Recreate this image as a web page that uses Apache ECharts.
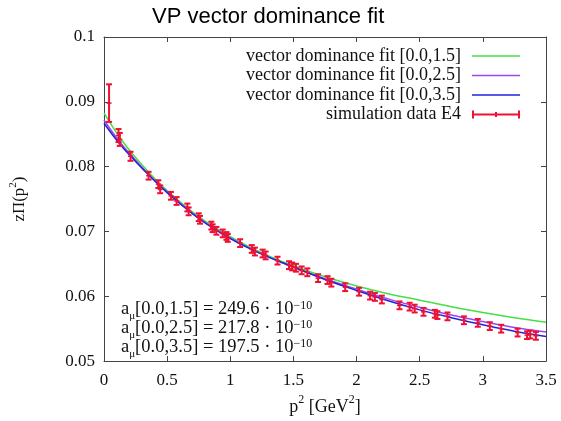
<!DOCTYPE html>
<html>
<head>
<meta charset="utf-8">
<script src="https://cdn.jsdelivr.net/npm/echarts@6/dist/echarts.min.js"></script>
<style>
html,body{margin:0;padding:0;background:#fff;}
#chart{width:561px;height:421px;}
</style>
</head>
<body>
<div id="chart"></div>
<script>
// ---- data ----
var fitX      = [0, 0.125, 0.25, 0.375, 0.5, 0.75, 1.0, 1.25, 1.5, 1.75, 2.0, 2.25, 2.5, 2.75, 3.0, 3.25, 3.5];
var fit15     = [0.0883, 0.0845, 0.0814, 0.0787, 0.0763, 0.0723, 0.0692, 0.0667, 0.0647, 0.0630, 0.0616, 0.0604, 0.0594, 0.0584, 0.0575, 0.0567, 0.0560];
var fit25     = [0.0872, 0.0838, 0.0810, 0.0784, 0.0761, 0.0721, 0.0690, 0.0665, 0.0645, 0.0627, 0.0611, 0.0596, 0.0583, 0.0571, 0.0561, 0.0552, 0.0545];
var fit35     = [0.0867, 0.0835, 0.0808, 0.0783, 0.0760, 0.0720, 0.0689, 0.0665, 0.0645, 0.0626, 0.0609, 0.0593, 0.0579, 0.0567, 0.0556, 0.0546, 0.0538];

var simX   = [0.04, 0.115, 0.125, 0.21, 0.353, 0.43, 0.445, 0.53, 0.575, 0.66, 0.67, 0.75, 0.76, 0.85, 0.86, 0.89, 0.94, 0.97, 0.98, 1.078, 1.17, 1.195, 1.256, 1.28, 1.374, 1.465, 1.49, 1.52, 1.565, 1.61, 1.695, 1.77, 1.8, 1.91, 2.02, 2.107, 2.145, 2.2, 2.34, 2.42, 2.46, 2.53, 2.62, 2.64, 2.72, 2.85, 2.96, 3.055, 3.145, 3.275, 3.35, 3.375, 3.42];
var simY   = [0.0898, 0.0848, 0.0842, 0.0816, 0.0786, 0.0773, 0.0765, 0.0755, 0.0747, 0.0737, 0.0731, 0.0722, 0.0718, 0.0709, 0.0705, 0.0701, 0.0697, 0.0693, 0.0690, 0.0682, 0.0673, 0.0669, 0.0666, 0.0663, 0.0655, 0.0648, 0.0646, 0.0644, 0.0640, 0.0637, 0.0628, 0.0625, 0.0621, 0.0614, 0.0607, 0.0601, 0.0599, 0.0595, 0.0586, 0.0584, 0.0581, 0.0576, 0.0573, 0.0571, 0.0569, 0.0563, 0.0559, 0.0554, 0.0550, 0.0544, 0.0540, 0.0541, 0.0539];
var simErr = [0.0029, 0.0010, 0.0010, 0.0007, 0.0006, 0.0006, 0.0006, 0.0006, 0.0006, 0.0006, 0.0006, 0.0006, 0.0006, 0.0006, 0.0006, 0.0006, 0.0006, 0.0006, 0.0006, 0.0006, 0.0006, 0.0006, 0.0006, 0.0006, 0.0006, 0.0006, 0.0006, 0.0006, 0.0006, 0.0006, 0.0006, 0.0006, 0.0006, 0.0006, 0.0006, 0.0006, 0.0006, 0.0006, 0.0006, 0.0006, 0.0006, 0.0006, 0.0006, 0.0006, 0.0006, 0.0006, 0.0006, 0.0006, 0.0006, 0.0006, 0.0006, 0.0006, 0.0006];

var seriesNames = ['vector dominance fit [0.0,1.5]', 'vector dominance fit [0.0,2.5]', 'vector dominance fit [0.0,3.5]', 'simulation data E4'];
var amuLabels = ['[0.0,1.5] = 249.6 · 10', '[0.0,2.5] = 217.8 · 10', '[0.0,3.5] = 197.5 · 10'];

var xTicks = {min: 0, max: 3.5, interval: 0.5};
var yTicks = {min: 0.05, max: 0.1, interval: 0.01};

// ---- chart ----
var SERIF = '"Liberation Serif", "DejaVu Serif", serif';
var FRAME = '#444';
var RED = '#ee1133';
var colors = ['#44e044', '#a044ee', '#2222dd'];

function pairs(xs, ys) { return xs.map(function (x, i) { return [x, ys[i]]; }); }

var chart = echarts.init(document.getElementById('chart'));

function axisCommon(showLabel) {
  return {
    type: 'value',
    axisLine: {show: true, onZero: false, lineStyle: {color: FRAME, width: 1}},
    axisTick: {show: true, inside: true, length: 5, lineStyle: {color: FRAME}},
    splitLine: {show: false},
    axisLabel: {show: showLabel, color: '#111', fontFamily: SERIF, fontSize: 17}
  };
}

var xBottom = Object.assign(axisCommon(true), xTicks, {position: 'bottom',
  name: '{n|p}{s|2}{n| [GeV}{s|2}{n|]}', nameLocation: 'middle', nameGap: 29,
  nameTextStyle: {rich: {n: {fontFamily: SERIF, fontSize: 18, color: '#111', lineHeight: 22, verticalAlign: 'bottom'},
                         s: {fontFamily: SERIF, fontSize: 12, color: '#111', lineHeight: 22, verticalAlign: 'top'}}}});
xBottom.axisLabel.margin = 11;
var xTop = Object.assign(axisCommon(false), xTicks, {position: 'top'});
var yLeft = Object.assign(axisCommon(true), yTicks, {position: 'left',
  name: '{n|zΠ(p}{s|2}{n|)}', nameLocation: 'middle', nameGap: 76, nameRotate: 90,
  nameTextStyle: {rich: {n: {fontFamily: SERIF, fontSize: 17, color: '#111', lineHeight: 20, verticalAlign: 'bottom'},
                         s: {fontFamily: SERIF, fontSize: 11, color: '#111', lineHeight: 20, verticalAlign: 'top'}}}});
yLeft.axisLabel.margin = 9;
var yRight = Object.assign(axisCommon(false), yTicks, {position: 'right'});

function lineSeries(i, ys) {
  return {
    name: seriesNames[i], type: 'line', data: pairs(fitX, ys), smooth: 0.4,
    showSymbol: false, symbol: 'none', lineStyle: {color: colors[i], width: 1.5},
    itemStyle: {color: colors[i]}, z: 2 + i, animation: false
  };
}

var errSeries = {
  name: seriesNames[3], type: 'custom', z: 10, animation: false,
  itemStyle: {color: RED},
  data: simX.map(function (x, i) { return [x, simY[i], simErr[i]]; }),
  encode: {x: 0, y: 1},
  renderItem: function (params, api) {
    var x = api.value(0), y = api.value(1), e = api.value(2);
    var top = api.coord([x, y + e]);
    var bot = api.coord([x, y - e]);
    var mid = api.coord([x, y]);
    var c = 3, st = {stroke: RED, lineWidth: 2};
    return {type: 'group', children: [
      {type: 'line', shape: {x1: top[0], y1: top[1], x2: bot[0], y2: bot[1]}, style: st},
      {type: 'line', shape: {x1: top[0] - c, y1: top[1], x2: top[0] + c, y2: top[1]}, style: st},
      {type: 'line', shape: {x1: bot[0] - c, y1: bot[1], x2: bot[0] + c, y2: bot[1]}, style: st},
      {type: 'line', shape: {x1: mid[0] - 2.5, y1: mid[1], x2: mid[0] + 2.5, y2: mid[1]}, style: {stroke: RED, lineWidth: 1.5}}
    ]};
  }
};

var amuRich = {
  n: {fontFamily: SERIF, fontSize: 18.5, fill: '#111', lineHeight: 19, verticalAlign: 'bottom'},
  sub: {fontFamily: SERIF, fontSize: 11, fill: '#111', lineHeight: 19, verticalAlign: 'bottom', padding: [0,0,-3,0]},
  sup: {fontFamily: SERIF, fontSize: 12, fill: '#111', lineHeight: 19, verticalAlign: 'top'}
};
var amuGraphics = amuLabels.map(function (t, i) {
  return {type: 'text', left: 121, top: 300 + i * 19, z: 20,
    style: {text: '{n|a}{sub|μ}{n|' + t + '}{sup|−10}', rich: amuRich}};
});

var LINE_ICON = 'path://M0,0H48V1.6H0Z';

chart.setOption({
  animation: false,
  backgroundColor: '#fff',
  title: {text: 'VP vector dominance fit', left: 147, top: 1,
    textStyle: {fontFamily: '"Liberation Sans", Arial, sans-serif', fontSize: 22, fontWeight: 'normal', color: '#000'}},
  grid: {left: 100, right: 15, top: 37, bottom: 52, containLabel: false},
  xAxis: [xBottom, xTop],
  yAxis: [yLeft, yRight],
  legend: {
    orient: 'vertical', right: 36, top: 42, align: 'right', itemGap: 1.5,
    itemWidth: 48, itemHeight: 8, selectedMode: false, symbolKeepAspect: true,
    textStyle: {fontFamily: SERIF, fontSize: 18, color: '#111', padding: [0, 6, 0, 0]},
    data: [
      {name: seriesNames[0], icon: LINE_ICON, itemStyle: {color: colors[0]}},
      {name: seriesNames[1], icon: LINE_ICON, itemStyle: {color: colors[1]}},
      {name: seriesNames[2], icon: LINE_ICON, itemStyle: {color: colors[2]}},
      {name: seriesNames[3], icon: 'path://M0,3H48V5H0Z M0,0H2V8H0Z M23,1.5H25V6.5H23Z M46,0H48V8H46Z', itemStyle: {color: RED}}
    ]
  },
  graphic: amuGraphics,
  series: [lineSeries(0, fit15), lineSeries(1, fit25), lineSeries(2, fit35), errSeries]
});
</script>
</body>
</html>
